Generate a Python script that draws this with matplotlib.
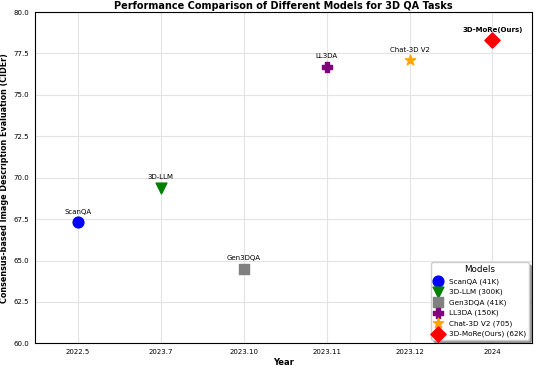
import matplotlib
matplotlib.use('Agg')
from matplotlib import pyplot as plt

years = ['2022.5', '2023.7', '2023.10', '2023.11', '2023.12', '2024']
models = ['ScanQA', '3D-LLM', 'Gen3DQA', 'LL3DA', 'Chat-3D V2', '3D-MoRe(Ours)']
sizes = ['41K', '300K', '41K', '150K', '705', '62K']
cider = [67.3, 69.4, 64.5, 76.7, 77.1, 78.3]
markers = ['o', 'v', 's', 'P', '*', 'D']
colors = ['blue', 'green', 'gray', 'purple', 'orange', 'red']

fig, ax = plt.subplots(figsize=(5.36, 3.66), dpi=100)

for i, (m, s, c, mk, col) in enumerate(zip(models, sizes, cider, markers, colors)):
    ax.scatter(i, c, marker=mk, color=col, s=60, label=f'{m} ({s})', zorder=3)
    weight = 'bold' if 'Ours' in m else 'normal'
    ax.annotate(m, (i, c), xytext=(0, 6), textcoords='offset points',
                ha='center', fontsize=5, fontweight=weight)

ax.set_xticks(range(len(years)))
ax.set_xticklabels(years)
ax.set_xlim(-0.52, 5.48)
ax.set_ylim(60, 80)
ax.set_yticks([60, 62.5, 65, 67.5, 70, 72.5, 75, 77.5, 80])
ax.tick_params(labelsize=5, length=0, pad=4)
ax.grid(True, color='#e3e3e3', linewidth=0.8)
ax.set_axisbelow(True)

ax.set_title('Performance Comparison of Different Models for 3D QA Tasks',
             fontsize=7, fontweight='bold', pad=2)
ax.set_xlabel('Year', fontsize=6, fontweight='bold', labelpad=2)
ax.set_ylabel('Consensus-based Image Description Evaluation (CIDEr)',
              fontsize=5.8, fontweight='bold', labelpad=3)

leg = ax.legend(title='Models', loc='lower right', fontsize=5.2, title_fontsize=6.3,
                shadow=True, markerscale=1.0, handletextpad=0.9, borderpad=0.35,
                labelspacing=0.55, handlelength=1.2, framealpha=1)

fig.subplots_adjust(left=0.065, right=0.993, top=0.967, bottom=0.062)
fig.savefig('out.png', dpi=100)
